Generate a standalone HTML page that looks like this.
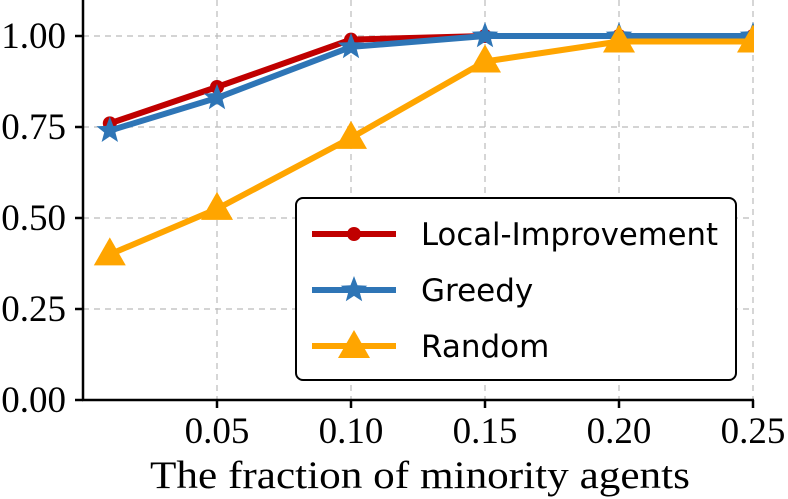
<!DOCTYPE html>
<html><head><meta charset="utf-8"><style>
body{margin:0;background:#fff}
svg{display:block;font-family:"Liberation Serif",serif}
</style></head><body>
<svg id="chart" width="788" height="499" viewBox="0 0 788 499" xmlns="http://www.w3.org/2000/svg">
<defs><clipPath id="plotclip"><rect x="83" y="0" width="671" height="400"/></clipPath></defs>
<g id="grid"></g>
<g id="series" clip-path="url(#plotclip)"></g>
<g id="axes"></g>
<text x="150" y="488" font-size="39" textLength="540" lengthAdjust="spacingAndGlyphs">The fraction of minority agents</text>
<g font-family="'DejaVu Sans',sans-serif" font-size="31">
<rect x="296" y="198" width="440" height="182" rx="7" fill="#fff" stroke="#000" stroke-width="2"/>
<g><line x1="312" y1="234" x2="396" y2="234" stroke="#c00000" stroke-width="6"/><circle cx="354" cy="234" r="7" fill="#c00000"/><text x="421" y="245" fill="#000" textLength="297" lengthAdjust="spacingAndGlyphs">Local-Improvement</text></g>
<g><line x1="312" y1="290" x2="396" y2="290" stroke="#2e75b6" stroke-width="6"/><polygon id="legstar" fill="#2e75b6" points=""/><text x="421" y="301" fill="#000">Greedy</text></g>
<g><line x1="312" y1="346" x2="396" y2="346" stroke="#ffa500" stroke-width="6"/><polygon fill="#ffa500" points="354,330 370,358 338,358"/><text x="421" y="357" fill="#000">Random</text></g>
</g>
</svg>
<script>
const xValues=[0.01,0.05,0.10,0.15,0.20,0.25];
const localImprovement=[0.76,0.86,0.99,1.0,1.0,1.0];
const greedy=[0.74,0.83,0.97,1.0,1.0,1.0];
const random=[0.40,0.525,0.72,0.93,0.985,0.985];
const xTicks=[0.05,0.10,0.15,0.20,0.25];
const xTickLabels=["0.05","0.10","0.15","0.20","0.25"];
const yTicks=[0,0.25,0.5,0.75,1.0];
const yTickLabels=["0.00","0.25","0.50","0.75","1.00"];

const NS="http://www.w3.org/2000/svg";
function xs(v){return 217+(v-0.05)*(134/0.05);}
function ys(v){return 400-v*(364/1.0);}
function mk(tag,attrs,parent){const e=document.createElementNS(NS,tag);for(const k in attrs)e.setAttribute(k,attrs[k]);parent.appendChild(e);return e;}
function starPts(cx,cy,R){const r=R*0.42;let p=[];for(let i=0;i<10;i++){const a=-Math.PI/2+i*Math.PI/5;const rr=i%2?r:R;p.push((cx+rr*Math.cos(a)).toFixed(1)+","+(cy+rr*Math.sin(a)).toFixed(1));}return p.join(" ");}
const grid=document.getElementById('grid'),axes=document.getElementById('axes'),ser=document.getElementById('series');
document.getElementById('legstar').setAttribute('points',starPts(354,290,14));

xTicks.forEach((t,i)=>{const x=xs(t);
 const g=mk('line',{x1:x,x2:x,y1:0,y2:400,stroke:'#bbb','stroke-width':1.2,'stroke-dasharray':'6,5'},grid);
 
 
 const tk=mk('line',{x1:x,x2:x,y1:400,y2:408,stroke:'#000','stroke-width':2.5},axes);
 
 
 const tx=mk('text',{x:x,y:443,'font-size':37,'text-anchor':'middle'},axes);tx.textContent=xTickLabels[i];
 
 
});
yTicks.forEach((t,i)=>{const y=ys(t);
 const g=mk('line',{x1:83,x2:754,y1:y,y2:y,stroke:'#bbb','stroke-width':1.2,'stroke-dasharray':'6,5'},grid);
 
 
 const tk=mk('line',{x1:75,x2:83,y1:y,y2:y,stroke:'#000','stroke-width':2.5},axes);
 
 
 const tx=mk('text',{x:66,y:y+12,'font-size':37,'text-anchor':'end'},axes);tx.textContent=yTickLabels[i];
 
 
});
const sp=mk('line',{x1:83,x2:83,y1:0,y2:401,stroke:'#000','stroke-width':2.5},axes);


const sp2=mk('line',{x1:82,x2:754,y1:400,y2:400,stroke:'#000','stroke-width':2.5},axes);



function drawSeries(vals,color,marker,name){
 const pts=xValues.map((x,i)=>xs(x).toFixed(1)+","+ys(vals[i]).toFixed(1)).join(" ");
 const l=mk('polyline',{points:pts,fill:'none',stroke:color,'stroke-width':6,'stroke-linejoin':'round'},ser);
 
 
 xValues.forEach((x,i)=>{const cx=xs(x),cy=ys(vals[i]);let m;
  if(marker==='circle')m=mk('circle',{cx:cx,cy:cy,r:7,fill:color},ser);
  else if(marker==='star')m=mk('polygon',{points:starPts(cx,cy,14),fill:color},ser);
  else m=mk('polygon',{points:`${cx},${cy-17} ${cx+16},${cy+11} ${cx-16},${cy+11}`,fill:color},ser);
  
  
 });
}
drawSeries(localImprovement,'#c00000','circle','local-improvement');
drawSeries(greedy,'#2e75b6','star','greedy');
drawSeries(random,'#ffa500','triangle','random');
</script>
</body></html>
